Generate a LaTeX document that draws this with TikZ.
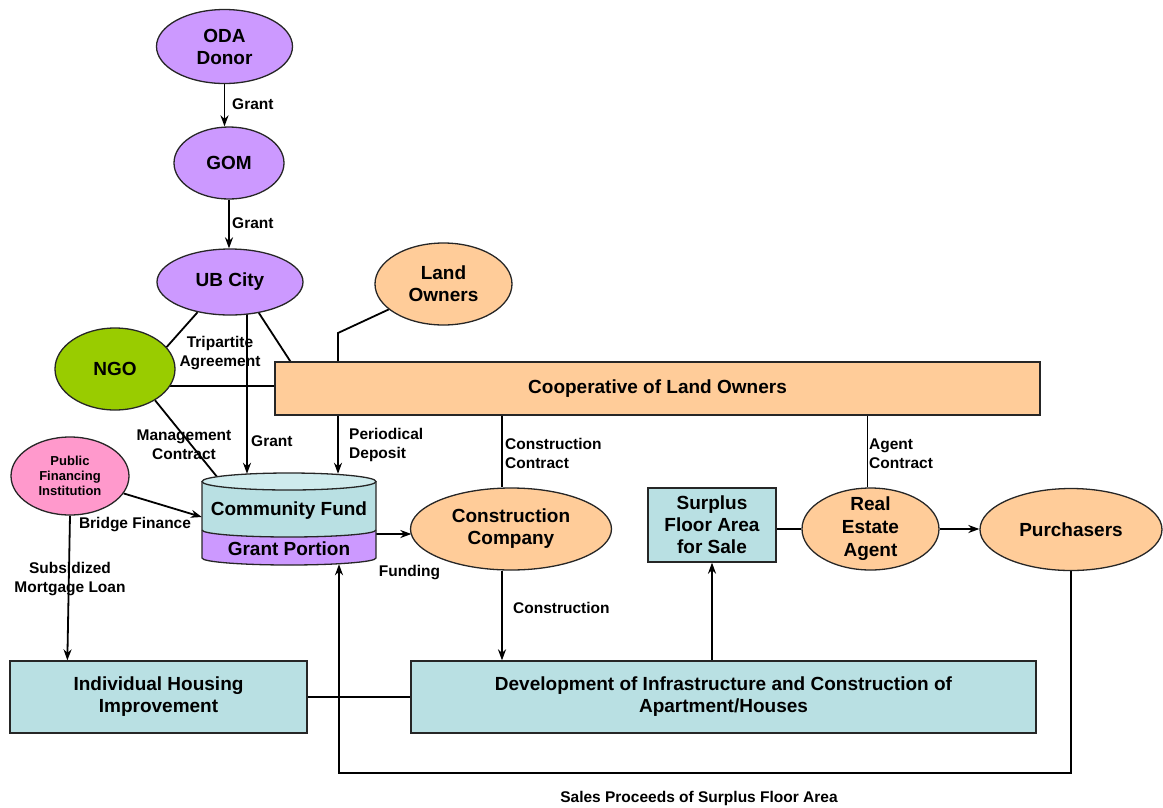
\documentclass[tikz,border=0pt]{standalone}
\usepackage{fontspec}
\setmainfont{Liberation Sans}
\usetikzlibrary{shapes.geometric,arrows.meta,calc}
\pgfdeclarelayer{background}
\pgfsetlayers{background,main}
\definecolor{violetfill}{HTML}{CC99FF}
\definecolor{ngogreen}{HTML}{99CC00}
\definecolor{pinkfill}{HTML}{FF99CC}
\definecolor{orangefill}{HTML}{FFCC99}
\definecolor{cyanfill}{HTML}{B9E0E3}
\definecolor{cyantop}{HTML}{CFEBED}
\begin{document}
\begin{tikzpicture}[x=1pt,y=-1pt,
  every node/.style={font=\bfseries},
  nodetext/.style={font=\bfseries\fontsize{19}{22}\selectfont, align=center},
  lbl/.style={font=\bfseries\fontsize{15.5}{19}\selectfont, inner sep=0pt},
  oval/.style={ellipse, draw=black!85, line width=1.3pt, inner sep=0pt, nodetext},
  box/.style={rectangle, draw=black!85, line width=1.3pt, inner sep=0pt, nodetext},
  link/.style={line width=1.8pt},
  arr/.style={link, -{Stealth[length=11pt,width=8pt,inset=3.5pt]}}
]
\useasboundingbox (0,0) rectangle (1163,807);

% --- actors and bodies ---
\node[oval, fill=violetfill, minimum width=136pt, minimum height=74pt] (oda) at (224.5,46.5) {ODA\\Donor};
\node[oval, fill=violetfill, minimum width=110pt, minimum height=72pt] (gom) at (229,163) {GOM};
\node[oval, fill=violetfill, minimum width=146pt, minimum height=66pt] (ub) at (230,282) {UB City};
\node[oval, fill=ngogreen, minimum width=120pt, minimum height=82pt] (ngo) at (115,369) {NGO};
\node[oval, fill=pinkfill, minimum width=118pt, minimum height=78pt,
      font=\bfseries\fontsize{13}{15}\selectfont] (pfi) at (70,476) {Public\\Financing\\Institution};
\node[oval, fill=orangefill, minimum width=137pt, minimum height=82pt] (land) at (443.5,284) {Land\\Owners};
\node[box, fill=orangefill, minimum width=765pt, minimum height=53pt] (coop) at (657.5,388.5) {Cooperative of Land Owners};
\node[oval, fill=orangefill, minimum width=201pt, minimum height=82pt] (cc) at (511,529) {Construction\\Company};
\node[box, fill=cyanfill, minimum width=128pt, minimum height=74pt] (surplus) at (712,525) {Surplus\\Floor Area\\for Sale};
\node[oval, fill=orangefill, minimum width=137pt, minimum height=82pt,
      label={[nodetext, font=\bfseries\fontsize{19}{23}\selectfont]center:{Real\\Estate\\Agent}}] (rea) at (870.5,529) {};
\node[oval, fill=orangefill, minimum width=182pt, minimum height=82pt] (purch) at (1071,529.5) {Purchasers};
\node[box, fill=cyanfill, minimum width=297pt, minimum height=72pt] (ihi) at (158.5,697) {Individual Housing\\Improvement};
\node[box, fill=cyanfill, minimum width=625pt, minimum height=72pt] (dev) at (723.5,697) {Development of Infrastructure and Construction of\\Apartment/Houses};

% --- community fund drum ---
\node[minimum width=174pt, minimum height=92pt, inner sep=0pt] (fund) at (289,519) {};
\fill[cyanfill] (202,481.5) -- (202,530) arc[start angle=180,end angle=360,x radius=87pt,y radius=7pt] -- (376,481.5) -- cycle;
\fill[violetfill] (202,530) arc[start angle=180,end angle=360,x radius=87pt,y radius=7pt]
  -- (376,558) arc[start angle=0,end angle=-180,x radius=87pt,y radius=7pt] -- cycle;
\draw[draw=black!85, line width=1.3pt] (202,481.5) -- (202,558)
  arc[start angle=180,end angle=360,x radius=87pt,y radius=7pt] -- (376,481.5);
\draw[draw=black!85, line width=1.3pt] (202,530) arc[start angle=180,end angle=360,x radius=87pt,y radius=7pt];
\draw[draw=black!85, line width=1.3pt, fill=cyantop] (289,481.5) ellipse[x radius=87pt,y radius=8.5pt];
\node[nodetext] (cfund) at (289,511) {Community Fund};
\node[nodetext] (gport) at (289,549) {Grant Portion};

% --- connectors ---
\begin{pgfonlayer}{background}
\draw[arr] (oda.south) -- (oda.south |- gom.north);
\draw[arr] (gom.south) -- (gom.south |- ub.north);
\draw[link] (ub.223) -- (ngo.23);
\draw[link] (ub.313) -- ($(coop.north west)+(16,0)$);
\coordinate (ngoR) at ($(ngo.center)+(0,17)$);
\draw[link] (ngoR) -- (ngoR -| coop.west);
\draw[link] (ngo.322) -- ($(fund.north)+(-72,4)$);
\draw[arr] ($(ub.center)+(17,0)$) -- ($(fund.north)+(-42,1)$);
\coordinate (lbend) at (338,333);
\draw[link] (land) -- (lbend) -- (lbend |- coop.north);
\draw[arr] (lbend |- coop.south) -- ($(lbend |- fund.north)+(0,1)$);
\draw[arr] (pfi.342) -- ($(fund.west)+(0,-2)$);
\draw[arr] (pfi.south) -- ($(ihi.north west)+(58,0)$);
\coordinate (fundR) at ($(fund.east)+(0,15)$);
\draw[arr, shorten >=-1.5pt] (fundR) -- (fundR -| cc.west);
\coordinate (ccN) at ($(cc.north)+(-9,0)$);
\draw[link] (ccN |- coop.south) -- (ccN);
\coordinate (ccS) at ($(cc.south)+(-9,0)$);
\draw[arr] (ccS) -- (ccS |- dev.north);
\coordinate (reaN) at ($(rea.north)+(-3,0)$);
\draw[link] (reaN |- coop.south) -- (reaN);
\draw[link] (rea) -- (rea -| surplus.east);
\draw[arr] (rea) -- (rea -| purch.west);
\coordinate (sp) at (339,773);
\draw[arr] (purch.south) |- (sp) -- ($(sp |- fund.south)+(0,-1)$);
\draw[arr] (surplus.south |- dev.north) -- (surplus.south);
\draw[link] (ihi.east) -- (dev.west);
\end{pgfonlayer}

% --- connector labels ---
\node[lbl, anchor=west] (g1) at (232,104) {Grant};
\node[lbl, anchor=west] (g2) at (232,223) {Grant};
\node[lbl, align=center] (tri) at (220,353.5) {Tripartite\\Agreement};
\node[lbl, align=center] (mgmt) at (184,445) {Management\\Contract};
\node[lbl, anchor=west] (g3) at (251,441) {Grant};
\node[lbl, anchor=west, align=left] (pdep) at (349,445) {Periodical\\Deposit};
\node[lbl, anchor=west, align=left] (ccon) at (505,453.5) {Construction\\Contract};
\node[lbl, anchor=west, align=left] (acon) at (869,453.5) {Agent\\Contract};
\node[lbl] (bf) at (135,525) {Bridge Finance};
\node[lbl, align=center] (sml) at (70,579.5) {Subsidized\\Mortgage Loan};
\node[lbl] (fnd) at (409.5,573) {Funding};
\node[lbl, anchor=west] (cons) at (513,608) {Construction};
\node[lbl] (sales) at (699,798) {Sales Proceeds of Surplus Floor Area};
\end{tikzpicture}
\end{document}
